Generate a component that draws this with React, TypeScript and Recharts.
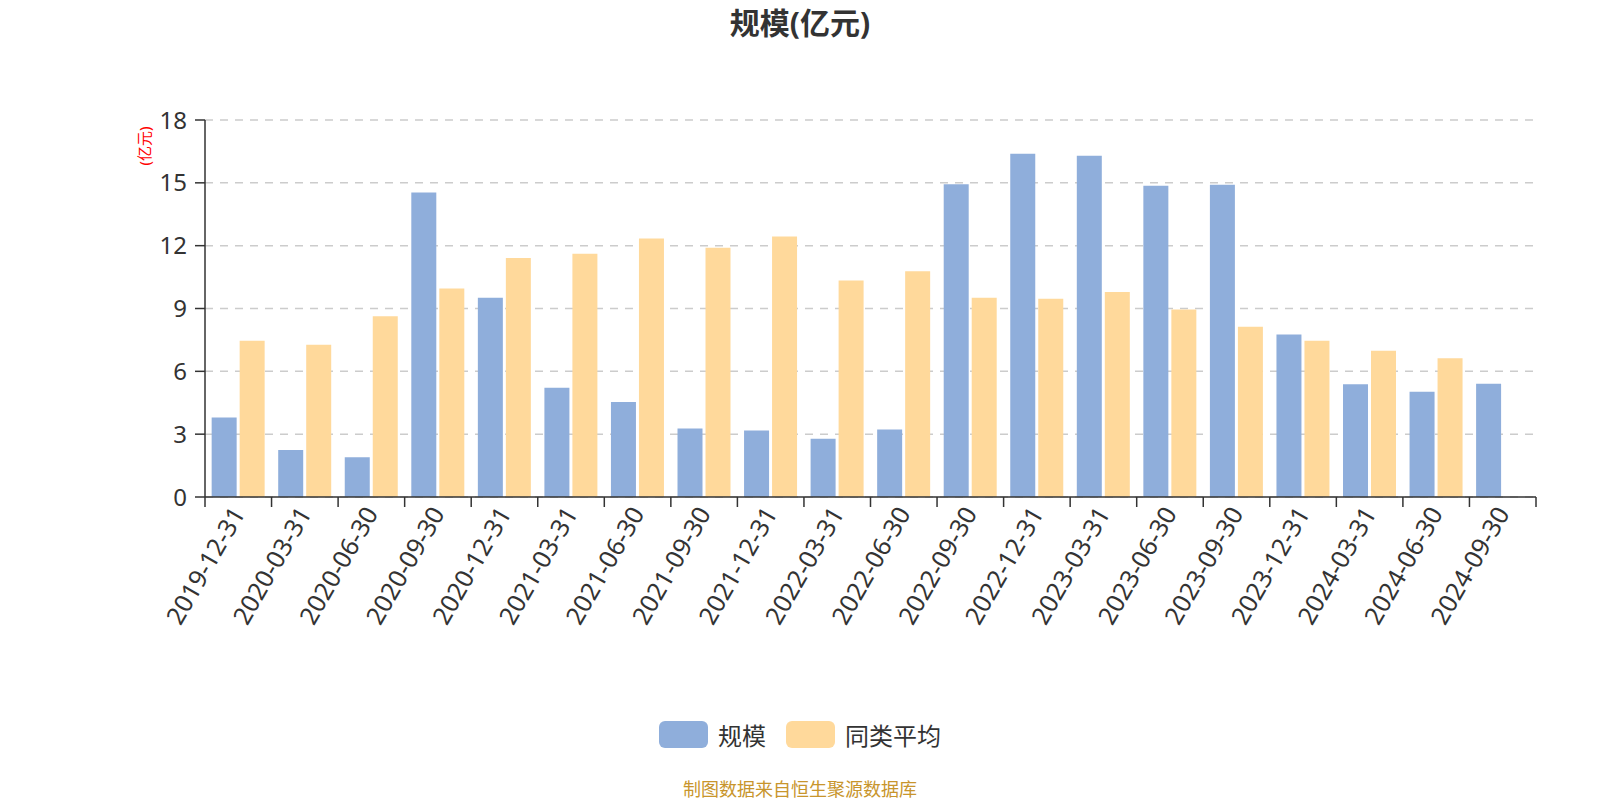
import React from 'react'
import { BarChart, Bar, XAxis, YAxis, CartesianGrid } from 'recharts';

const dates = [
  '2019-12-31', '2020-03-31', '2020-06-30', '2020-09-30', '2020-12-31',
  '2021-03-31', '2021-06-30', '2021-09-30', '2021-12-31', '2022-03-31',
  '2022-06-30', '2022-09-30', '2022-12-31', '2023-03-31', '2023-06-30',
  '2023-09-30', '2023-12-31', '2024-03-31', '2024-06-30', '2024-09-30',
];
const scaleValues = [3.8, 2.24, 1.9, 14.54, 9.51, 5.22, 4.54, 3.27, 3.17, 2.78, 3.22, 14.93, 16.39, 16.29, 14.86, 14.91, 7.76, 5.38, 5.02, 5.41];
const peerAvgValues = [7.46, 7.27, 8.63, 9.95, 11.41, 11.61, 12.34, 11.9, 12.44, 10.34, 10.78, 9.51, 9.46, 9.79, 8.95, 8.13, 7.46, 6.98, 6.63, null];
const yTicks = [0, 3, 6, 9, 12, 15, 18];

const BLUE = '#8FAEDB';
const ORANGE = '#FFD99B';
const FONT = "'Noto Sans', 'Noto Sans CJK SC', sans-serif";

const data = dates.map((date, i) => ({ date, scale: scaleValues[i], avg: peerAvgValues[i] }));

// label at category centre, tick marks on category boundaries (echarts style)
const DateTick = ({ x, y, payload, index }: any) => {
  const half = payload.offset ?? 0;
  const isLast = index === dates.length - 1;
  return (
    <g>
      <line x1={x - half} x2={x - half} y1={y} y2={y + 10} stroke="#333" strokeWidth={1.5} />
      {isLast && <line x1={x + half} x2={x + half} y1={y} y2={y + 10} stroke="#333" strokeWidth={1.5} />}
      <text
        x={x}
        y={y + 12}
        dy="0.35em"
        textAnchor="end"
        fill="#333"
        fontSize={25}
        fontFamily={FONT}
        transform={`rotate(-60, ${x}, ${y + 12})`}
      >
        {payload.value}
      </text>
    </g>
  );
};

const App: React.FC = () => {
  return (
    <div style={{ position: 'absolute', left: 0, top: 0, width: 1600, height: 800, fontFamily: FONT, background: '#fff' }}>
      <div style={{ position: 'absolute', top: 6, left: 0, width: 1600, textAlign: 'center', fontSize: 30, fontWeight: 'bold', color: '#333', lineHeight: '34px' }}>
        规模(亿元)
      </div>
      <div style={{ position: 'absolute', left: 143, top: 146, transform: 'translate(-50%, -50%) rotate(-90deg)', color: '#ff0000', fontSize: 15, whiteSpace: 'nowrap' }}>
        (亿元)
      </div>
      <BarChart
        width={1600}
        height={800}
        data={data}
        margin={{ top: 120, right: 64, left: 145, bottom: 163 }}
        barCategoryGap="10%"
        barGap={3}
      >
        <CartesianGrid vertical={false} stroke="#ccc" strokeWidth={1.5} strokeDasharray="8 7" />
        <XAxis
          dataKey="date"
          interval={0}
          tickLine={false}
          axisLine={{ stroke: '#333', strokeWidth: 1.5 }}
          tickSize={0}
          tickMargin={0}
          height={140}
          tick={<DateTick />}
        />
        <YAxis
          width={60}
          domain={[0, 18]}
          ticks={yTicks}
          interval={0}
          tickSize={10}
          tickMargin={8}
          axisLine={{ stroke: '#333', strokeWidth: 1.5 }}
          tickLine={{ stroke: '#333', strokeWidth: 1.5 }}
          tick={{ fill: '#333', fontSize: 24, fontFamily: FONT }}
        />
        <Bar dataKey="scale" name="规模" fill={BLUE} isAnimationActive={false} />
        <Bar dataKey="avg" name="同类平均" fill={ORANGE} isAnimationActive={false} />
      </BarChart>
      <div style={{ position: 'absolute', top: 721, left: 0, width: 1600, display: 'flex', justifyContent: 'center', alignItems: 'center', height: 27 }}>
        <div style={{ width: 49, height: 27, borderRadius: 6, background: BLUE }} />
        <span style={{ marginLeft: 10, marginRight: 20, fontSize: 24, color: '#333' }}>规模</span>
        <div style={{ width: 49, height: 27, borderRadius: 6, background: ORANGE }} />
        <span style={{ marginLeft: 10, fontSize: 24, color: '#333' }}>同类平均</span>
      </div>
      <div style={{ position: 'absolute', top: 777, left: 0, width: 1600, textAlign: 'center', fontSize: 18, color: '#C8952C', lineHeight: '24px' }}>
        制图数据来自恒生聚源数据库
      </div>
    </div>
  );
};

export default App;
